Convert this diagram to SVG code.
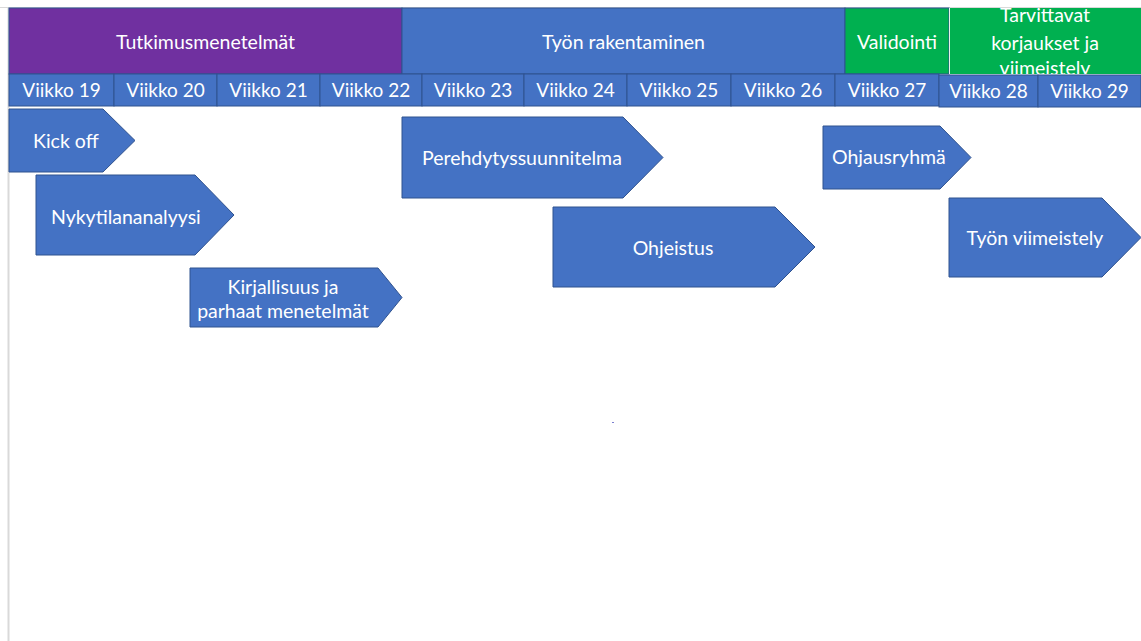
<svg xmlns="http://www.w3.org/2000/svg" width="1141" height="641" viewBox="0 0 1141 641">
<style>
.bg{fill:#ffffff}
.cell{stroke:#2F528F;stroke-width:1}
.blue{fill:#4472C4}
.purple{fill:#7030A0}
.green{fill:#00B050}
.arrow{fill:#4472C4;stroke:#2F528F;stroke-width:1}
text{font-family:"Lato","Liberation Sans",sans-serif;fill:#ffffff;font-size:19.5px}
.wk{font-size:19px}
.c{text-anchor:middle}
</style>
<rect class="bg" x="0" y="0" width="1141" height="641"/>
<line x1="0" y1="7.5" x2="1141" y2="7.5" stroke="#d9d9d9" stroke-width="1"/>
<line x1="8.5" y1="7" x2="8.5" y2="641" stroke="#d9d9d9" stroke-width="2"/>

<g id="header">
  <g id="phase-tutkimus"><rect class="cell purple" x="9" y="8" width="393" height="66"/><text class="c" x="205.5" y="49">Tutkimusmenetelmät</text></g>
  <g id="phase-rakentaminen"><rect class="cell blue" x="402" y="8" width="443" height="66"/><text class="c" x="623.5" y="49">Työn rakentaminen</text></g>
  <g id="phase-validointi"><rect class="cell green" x="845" y="8" width="104" height="66"/><text class="c" x="897" y="49">Validointi</text></g>
  <g id="phase-korjaukset"><rect x="949" y="8" width="192" height="66" fill="#00B050"/>
    <line x1="949.5" y1="8" x2="949.5" y2="74" stroke="#e8f0e8" stroke-width="1"/>
    <text class="c" x="1045" y="22">Tarvittavat</text>
    <text class="c" x="1045" y="50">korjaukset ja</text>
    <text class="c" x="1045" y="75">viimeistely</text></g>
</g>

<g id="weeks">
  <g id="w19"><rect class="cell blue" x="9" y="74" width="105" height="32"/><text class="c wk" x="61.5" y="97">Viikko 19</text></g>
  <g id="w20"><rect class="cell blue" x="114" y="74" width="103" height="32"/><text class="c wk" x="165.5" y="97">Viikko 20</text></g>
  <g id="w21"><rect class="cell blue" x="217" y="74" width="103" height="32"/><text class="c wk" x="268.5" y="97">Viikko 21</text></g>
  <g id="w22"><rect class="cell blue" x="320" y="74" width="102" height="32"/><text class="c wk" x="371" y="97">Viikko 22</text></g>
  <g id="w23"><rect class="cell blue" x="422" y="74" width="102" height="32"/><text class="c wk" x="473" y="97">Viikko 23</text></g>
  <g id="w24"><rect class="cell blue" x="524" y="74" width="103" height="32"/><text class="c wk" x="575.5" y="97">Viikko 24</text></g>
  <g id="w25"><rect class="cell blue" x="627" y="74" width="104" height="32"/><text class="c wk" x="679" y="97">Viikko 25</text></g>
  <g id="w26"><rect class="cell blue" x="731" y="74" width="104" height="32"/><text class="c wk" x="783" y="97">Viikko 26</text></g>
  <g id="w27"><rect class="cell blue" x="835" y="74" width="104" height="32"/><text class="c wk" x="887" y="97">Viikko 27</text></g>
  <g id="w28"><rect class="cell blue" x="939" y="75" width="99" height="32"/><text class="c wk" x="988.5" y="98">Viikko 28</text></g>
  <g id="w29"><rect class="cell blue" x="1038" y="75" width="103" height="32"/><text class="c wk" x="1089.5" y="98">Viikko 29</text></g>
</g>

<g id="tasks">
  <g id="kickoff"><polygon class="arrow" points="9,109 103,109 135,140.5 103,172 9,172"/><text x="33" y="148">Kick off</text></g>
  <g id="nykytila"><polygon class="arrow" points="36,175 195,175 234,215 195,255 36,255"/><text x="51" y="224">Nykytilananalyysi</text></g>
  <g id="kirjallisuus"><polygon class="arrow" points="190,268 378,268 402,297.5 378,327 190,327"/><text class="c" x="283" y="294">Kirjallisuus ja</text><text class="c" x="283" y="318">parhaat menetelmät</text></g>
  <g id="perehdytys"><polygon class="arrow" points="402,117 623,117 663,157.5 623,198 402,198"/><text x="422" y="165">Perehdytyssuunnitelma</text></g>
  <g id="ohjeistus"><polygon class="arrow" points="553,207 775,207 815,247 775,287 553,287"/><text class="c" x="673" y="255">Ohjeistus</text></g>
  <g id="ohjausryhma"><polygon class="arrow" points="823,126 940,126 971,157.5 940,189 823,189"/><text x="832" y="164">Ohjausryhmä</text></g>
  <g id="viimeistely"><polygon class="arrow" points="949,198 1102,198 1141,237.5 1102,277 949,277"/><text class="c" x="1035" y="245">Työn viimeistely</text></g>
</g>
<g id="connectors"></g>
<rect x="612" y="422" width="2" height="1" fill="#7b7fd0"/>
</svg>
